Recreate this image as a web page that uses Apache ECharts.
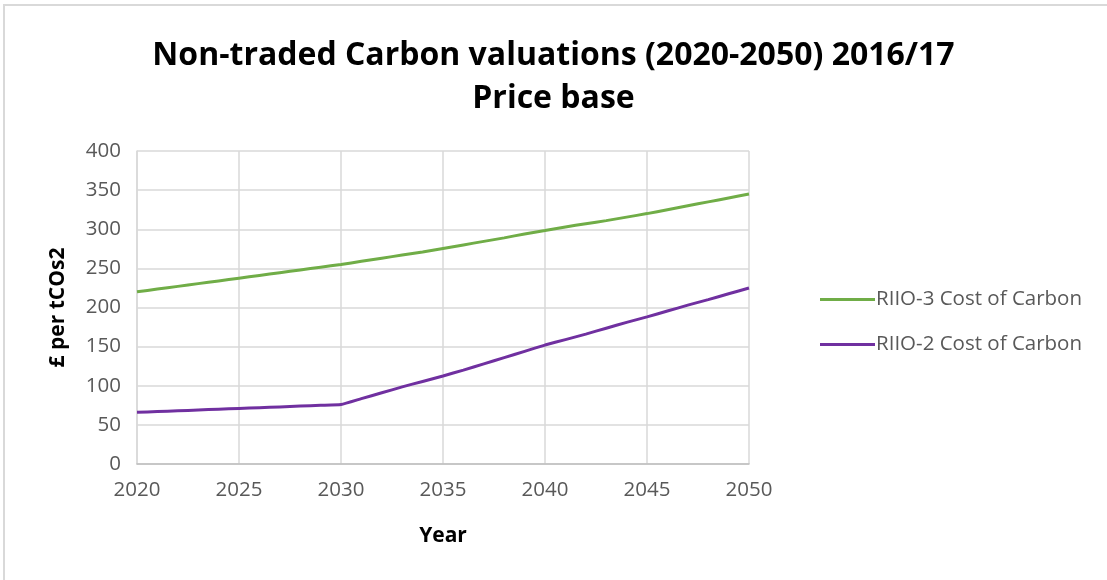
<!DOCTYPE html>
<html>
<head>
<meta charset="utf-8">
<script src="https://cdn.jsdelivr.net/npm/echarts@6/dist/echarts.min.js"></script>
<style>
  html, body { margin: 0; padding: 0; background: #fff; }
  #chart { width: 1107px; height: 580px; }
</style>
</head>
<body>
<div id="chart"></div>
<script>
// years on the x axis
var years = [2020, 2021, 2022, 2023, 2024, 2025, 2026, 2027, 2028, 2029, 2030,
  2031, 2032, 2033, 2034, 2035, 2036, 2037, 2038, 2039, 2040,
  2041, 2042, 2043, 2044, 2045, 2046, 2047, 2048, 2049, 2050];

// RIIO-3 Cost of Carbon (green)
var riio3 = [220, 223.5, 227, 230.5, 234, 237.5, 241, 244.5, 248, 251.5, 255,
  259, 263, 267, 271, 275.5, 280, 284.5, 289, 294, 298.5,
  303, 307, 311, 315.5, 320, 325, 330, 335, 340, 345];

// RIIO-2 Cost of Carbon (purple)
var riio2 = [66, 67, 68, 69, 70, 71, 72, 73, 74, 75, 76,
  83.5, 91, 98.5, 105.5, 112.5, 120, 128, 136, 144, 152,
  159, 166, 173.5, 181, 188, 195.5, 203, 210, 217.5, 225];

var titleLines = ['Non-traded Carbon valuations (2020-2050) 2016/17', 'Price base'];

function pairs(xs, ys) {
  var out = [];
  for (var i = 0; i < xs.length; i++) out.push([xs[i], ys[i]]);
  return out;
}

var chart = echarts.init(document.getElementById('chart'), null, { renderer: 'canvas' });

var labelFont = 'Open Sans';
var option = {
  backgroundColor: '#ffffff',
  animation: false,
  title: {
    text: titleLines.join('\n'),
    left: 'center',
    top: 29,
    textStyle: {
      fontFamily: labelFont,
      fontWeight: 'bold',
      fontSize: 32,
      lineHeight: 43,
      color: '#000000'
    }
  },
  legend: {
    orient: 'vertical',
    left: 815,
    top: 284,
    itemWidth: 55,
    itemHeight: 3,
    itemGap: 24,
    icon: 'rect',
    textStyle: {
      fontFamily: labelFont,
      fontSize: 20.5,
      lineHeight: 20,
      color: '#595959',
      padding: [0, 0, 0, -4]
    },
    data: ['RIIO-3 Cost of Carbon', 'RIIO-2 Cost of Carbon']
  },
  grid: {
    left: 137,
    right: 358,
    top: 151,
    bottom: 116
  },
  xAxis: {
    type: 'value',
    min: 2020,
    max: 2050,
    interval: 5,
    name: 'Year',
    nameLocation: 'middle',
    nameGap: 62,
    nameTextStyle: {
      fontFamily: labelFont,
      fontWeight: 'bold',
      fontSize: 21,
      color: '#000000'
    },
    axisLine: { show: true, lineStyle: { color: '#bfbfbf', width: 1.5 } },
    axisTick: { show: false },
    axisLabel: {
      fontFamily: labelFont,
      fontSize: 20.5,
      color: '#595959',
      margin: 16,
      formatter: function (v) { return String(v); }
    },
    splitLine: { show: true, lineStyle: { color: '#d9d9d9', width: 1.5 } }
  },
  yAxis: {
    type: 'value',
    min: 0,
    max: 400,
    interval: 50,
    name: '£ per tCOs2',
    nameLocation: 'middle',
    nameGap: 68,
    nameRotate: 90,
    nameTextStyle: {
      fontFamily: labelFont,
      fontWeight: 'bold',
      fontSize: 21,
      color: '#000000'
    },
    axisLine: { show: true, lineStyle: { color: '#d9d9d9', width: 1.5 } },
    axisTick: { show: false },
    axisLabel: {
      fontFamily: labelFont,
      fontSize: 20.5,
      color: '#595959',
      margin: 16
    },
    splitLine: { show: true, lineStyle: { color: '#d9d9d9', width: 1.5 } }
  },
  graphic: [{
    type: 'polyline',
    silent: true,
    shape: { points: [[4, 580], [4, 5], [1107, 5]] },
    style: { stroke: '#d9d9d9', lineWidth: 2, fill: null }
  }],
  series: [{
    name: 'RIIO-3 Cost of Carbon',
    type: 'line',
    data: pairs(years, riio3),
    showSymbol: false,
    symbol: 'none',
    smooth: 0.15,
    color: '#70ad47',
    lineStyle: { width: 3, color: '#70ad47' }
  }, {
    name: 'RIIO-2 Cost of Carbon',
    type: 'line',
    data: pairs(years, riio2),
    showSymbol: false,
    symbol: 'none',
    smooth: 0.15,
    color: '#7030a0',
    lineStyle: { width: 3, color: '#7030a0' }
  }]
};

chart.setOption(option);
</script>
</body>
</html>
